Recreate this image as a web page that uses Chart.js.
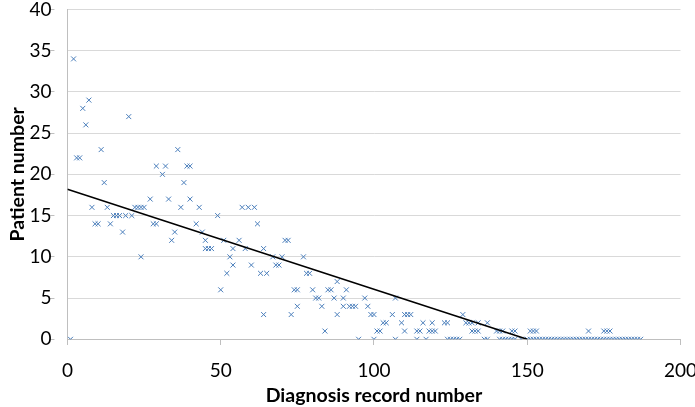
<!DOCTYPE html>
<html lang="en">
<head>
    <meta charset="UTF-8">
    <title>Patient number by diagnosis record</title>
    <script src="https://cdn.jsdelivr.net/npm/chart.js"></script>
    <style>
        body { margin: 0; background: #fff; }
        #chart { display: block; }
    </style>
</head>
<body>
    <canvas id="chart" width="695" height="407"></canvas>
    <script>
        // values (record number -> patient number)
        const recordNumbers = [
            1, 2, 3, 4, 5, 6, 7, 8, 9, 10, 11, 12, 13, 14, 15, 16, 17, 18, 19, 20,
            21, 22, 23, 24, 24, 25, 27, 28, 29, 29, 31, 32, 33, 34, 35, 36, 37, 38, 39, 40,
            40, 42, 43, 44, 45, 45, 46, 47, 49, 50, 51, 52, 53, 54, 54, 56, 57, 58, 59, 60,
            61, 62, 63, 64, 64, 65, 67, 68, 69, 70, 71, 72, 73, 74, 75, 75, 77, 78, 79, 80,
            81, 82, 83, 84, 85, 86, 87, 88, 88, 90, 90, 91, 92, 93, 94, 95, 97, 98, 99, 100,
            100, 101, 102, 103, 104, 106, 107, 107, 109, 110, 110, 111, 112, 114, 114, 115, 116, 117, 118, 119,
            119, 120, 123, 124, 124, 125, 126, 127, 128, 129, 130, 131, 132, 132, 133, 134, 134, 136, 137, 137,
            140, 141, 141, 142, 142, 143, 144, 145, 145, 146, 146, 148, 150, 151, 151, 152, 152, 153, 153, 154,
            155, 156, 157, 158, 159, 160, 161, 162, 163, 164, 165, 166, 167, 168, 169, 170, 170, 171, 172, 173,
            174, 175, 175, 176, 176, 177, 177, 178, 179, 180, 181, 182, 183, 184, 185, 186, 187
        ];
        const patientNumbers = [
            0, 34, 22, 22, 28, 26, 29, 16, 14, 14, 23, 19, 16, 14, 15, 15, 15, 13, 15, 27,
            15, 16, 16, 10, 16, 16, 17, 14, 14, 21, 20, 21, 17, 12, 13, 23, 16, 19, 21, 21,
            17, 14, 16, 13, 12, 11, 11, 11, 15, 6, 12, 8, 10, 11, 9, 12, 16, 11, 16, 9,
            16, 14, 8, 11, 3, 8, 10, 9, 9, 10, 12, 12, 3, 6, 6, 4, 10, 8, 8, 6,
            5, 5, 4, 1, 6, 6, 5, 7, 3, 5, 4, 6, 4, 4, 4, 0, 5, 4, 3, 3,
            0, 1, 1, 2, 2, 3, 5, 0, 2, 3, 1, 3, 3, 1, 0, 1, 2, 0, 1, 1,
            2, 1, 2, 2, 0, 0, 0, 0, 0, 3, 2, 2, 2, 1, 1, 1, 2, 0, 0, 2,
            1, 1, 0, 1, 0, 0, 0, 1, 0, 1, 0, 0, 0, 1, 0, 1, 0, 1, 0, 0,
            0, 0, 0, 0, 0, 0, 0, 0, 0, 0, 0, 0, 0, 0, 0, 1, 0, 0, 0, 0,
            0, 1, 0, 1, 0, 1, 0, 0, 0, 0, 0, 0, 0, 0, 0, 0, 0
        ];
        // linear trendline end points
        const trendX = [0, 150];
        const trendY = [18.2, 0];

        const xTicks = [0, 50, 100, 150, 200];
        const yTicks = [0, 5, 10, 15, 20, 25, 30, 35, 40];

        const points = recordNumbers.map((x, i) => ({ x: x, y: patientNumbers[i] }));
        const trend = trendX.map((x, i) => ({ x: x, y: trendY[i] }));

        const tickFont = { family: 'Lato', size: 19 };
        const titleFont = { family: 'Lato', size: 19.5, weight: 'bold' };

        new Chart(document.getElementById('chart'), {
            type: 'scatter',
            data: {
                datasets: [
                    {
                        label: 'Trend',
                        data: trend,
                        showLine: true,
                        borderColor: '#000000',
                        borderWidth: 1.5,
                        pointRadius: 0
                    },
                    {
                        label: 'Patients',
                        data: points,
                        pointStyle: 'crossRot',
                        pointRadius: 3.5,
                        borderColor: '#4a7ebb',
                        backgroundColor: '#4a7ebb',
                        borderWidth: 1
                    }
                ]
            },
            options: {
                responsive: false,
                animation: false,
                layout: { padding: { left: 6, right: 0, top: 0, bottom: 0 } },
                plugins: {
                    legend: { display: false },
                    tooltip: { enabled: false }
                },
                scales: {
                    x: {
                        type: 'linear',
                        min: 0,
                        max: 200,
                        afterBuildTicks: axis => { axis.ticks = xTicks.map(v => ({ value: v })); },
                        ticks: { font: tickFont, color: '#000', padding: -2, maxRotation: 0 },
                        // only the first 5px of each tick is drawn, the rest is the label gap
                        grid: {
                            drawOnChartArea: false, drawTicks: true, tickLength: 22,
                            color: '#bfbfbf', tickBorderDash: [5, 60]
                        },
                        border: { color: '#bfbfbf' },
                        title: {
                            display: true,
                            text: 'Diagnosis record number',
                            font: titleFont,
                            color: '#000',
                            padding: { top: 3.5, bottom: 0 }
                        }
                    },
                    y: {
                        min: 0,
                        max: 40,
                        afterBuildTicks: axis => { axis.ticks = yTicks.map(v => ({ value: v })); },
                        ticks: { font: tickFont, color: '#000', padding: -2 },
                        grid: { color: '#d9d9d9', tickColor: '#bfbfbf', tickLength: 18, tickBorderDash: [5, 60] },
                        border: { color: '#bfbfbf' },
                        title: {
                            display: true,
                            text: 'Patient number',
                            font: titleFont,
                            color: '#000',
                            padding: { top: 0, bottom: 2 }
                        }
                    }
                }
            }
        });
    </script>
</body>
</html>
